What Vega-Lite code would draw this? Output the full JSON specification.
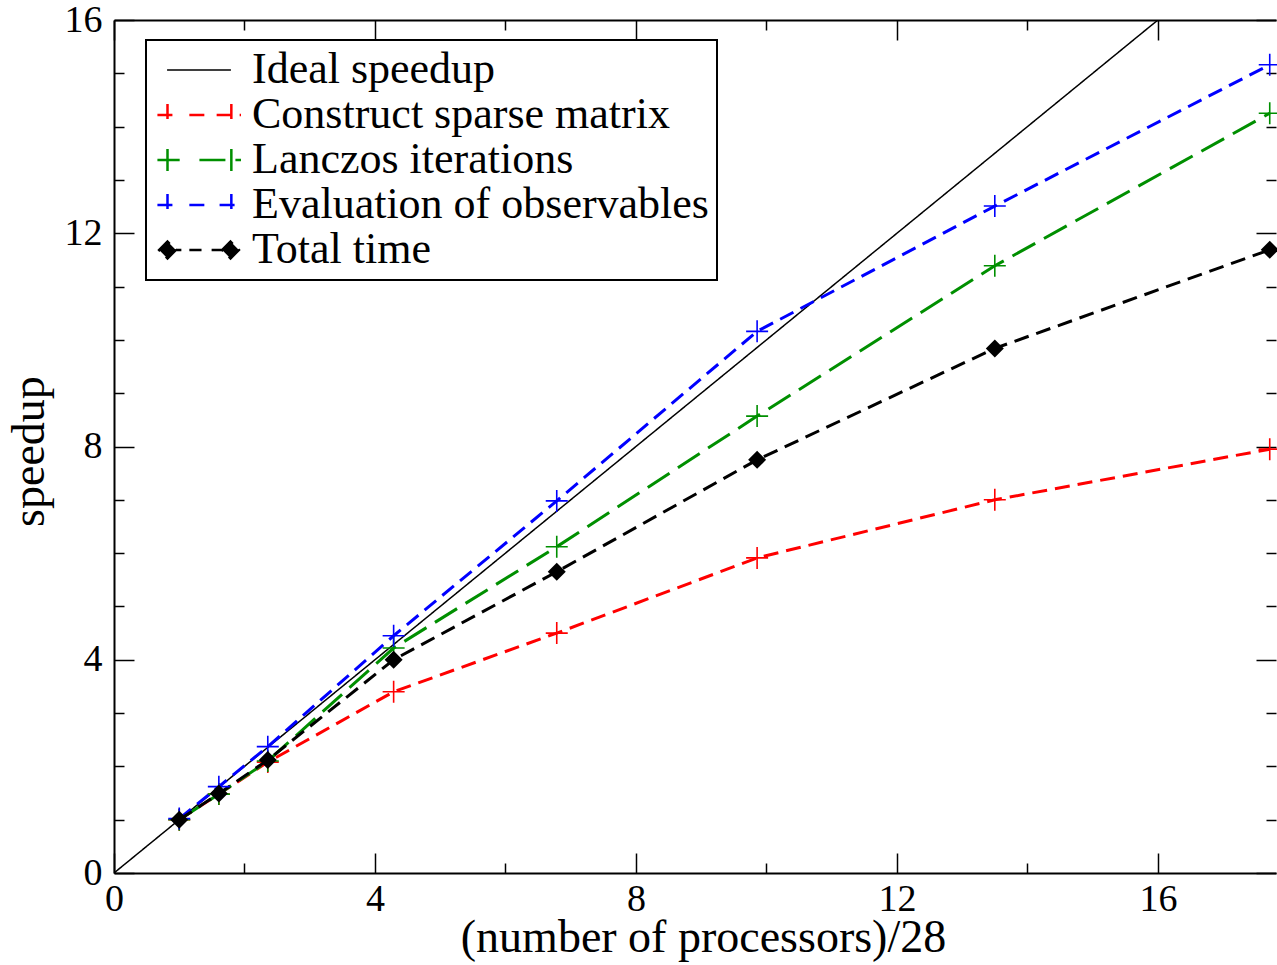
{
  "$schema": "https://vega.github.io/schema/vega-lite/v6.json",
  "width": 1162,
  "height": 853,
  "autosize": "none",
  "padding": {"left": 114, "top": 20, "right": 1, "bottom": 92},
  "background": "white",
  "config": {
    "view": {"stroke": null},
    "axis": {
      "grid": false,
      "domainColor": "black",
      "domainWidth": 2,
      "tickColor": "black",
      "tickWidth": 1.5,
      "labelFont": "Liberation Serif",
      "labelFontSize": 38,
      "labelColor": "black",
      "labelFlush": false,
      "labelOverlap": false,
      "labelBound": false,
      "titleFont": "Liberation Serif",
      "titleFontSize": 46,
      "titleFontWeight": "normal",
      "titleColor": "black"
    }
  },
  "data": {
    "values": [
      {"series": "Ideal speedup", "x": 0, "y": 0},
      {"series": "Ideal speedup", "x": 16, "y": 16},
      {"series": "Construct sparse matrix", "x": 1.0, "y": 1.0},
      {"series": "Construct sparse matrix", "x": 1.607, "y": 1.48},
      {"series": "Construct sparse matrix", "x": 2.357, "y": 2.08},
      {"series": "Construct sparse matrix", "x": 4.286, "y": 3.4},
      {"series": "Construct sparse matrix", "x": 6.786, "y": 4.5},
      {"series": "Construct sparse matrix", "x": 9.857, "y": 5.91},
      {"series": "Construct sparse matrix", "x": 13.5, "y": 7.0},
      {"series": "Construct sparse matrix", "x": 17.714, "y": 7.95},
      {"series": "Lanczos iterations", "x": 1.0, "y": 1.0},
      {"series": "Lanczos iterations", "x": 1.607, "y": 1.48},
      {"series": "Lanczos iterations", "x": 2.357, "y": 2.1},
      {"series": "Lanczos iterations", "x": 4.286, "y": 4.22},
      {"series": "Lanczos iterations", "x": 6.786, "y": 6.12},
      {"series": "Lanczos iterations", "x": 9.857, "y": 8.57},
      {"series": "Lanczos iterations", "x": 13.5, "y": 11.39},
      {"series": "Lanczos iterations", "x": 17.714, "y": 14.25},
      {"series": "Evaluation of observables", "x": 1.0, "y": 1.02},
      {"series": "Evaluation of observables", "x": 1.607, "y": 1.62},
      {"series": "Evaluation of observables", "x": 2.357, "y": 2.37},
      {"series": "Evaluation of observables", "x": 4.286, "y": 4.45},
      {"series": "Evaluation of observables", "x": 6.786, "y": 6.98},
      {"series": "Evaluation of observables", "x": 9.857, "y": 10.16},
      {"series": "Evaluation of observables", "x": 13.5, "y": 12.51},
      {"series": "Evaluation of observables", "x": 17.714, "y": 15.16},
      {"series": "Total time", "x": 1.0, "y": 1.0},
      {"series": "Total time", "x": 1.607, "y": 1.49},
      {"series": "Total time", "x": 2.357, "y": 2.12},
      {"series": "Total time", "x": 4.286, "y": 4.0},
      {"series": "Total time", "x": 6.786, "y": 5.65},
      {"series": "Total time", "x": 9.857, "y": 7.75},
      {"series": "Total time", "x": 13.5, "y": 9.84},
      {"series": "Total time", "x": 17.714, "y": 11.69}
    ]
  },
  "layer": [
    {
      "mark": {"type": "line", "clip": true},
      "encoding": {
        "x": {
          "field": "x", "type": "quantitative",
          "scale": {"domain": [0, 17.81], "nice": false, "zero": false},
          "axis": {
            "orient": "bottom",
            "title": "(number of processors)/28",
            "values": [0, 2, 4, 6, 8, 10, 12, 14, 16],
            "labelExpr": "datum.value % 4 === 0 ? datum.label : ''",
            "tickSize": {"condition": {"test": "datum.value % 4 === 0", "value": -20}, "value": -10},
            "labelPadding": 27,
            "titleBaseline": "alphabetic",
            "titleX": 589,
            "titleY": 78
          }
        },
        "y": {
          "field": "y", "type": "quantitative",
          "scale": {"domain": [0, 16], "nice": false},
          "axis": {
            "orient": "left",
            "title": "speedup",
            "values": [0, 1, 2, 3, 4, 5, 6, 7, 8, 9, 10, 11, 12, 13, 14, 15, 16],
            "labelExpr": "datum.value % 4 === 0 ? datum.label : ''",
            "tickSize": {"condition": {"test": "datum.value % 4 === 0", "value": -20}, "value": -10},
            "labelPadding": 32,
            "titleAngle": 270,
            "titleBaseline": "alphabetic",
            "titleAlign": "center",
            "titleX": -71,
            "titleY": 431
          }
        },
        "color": {
          "field": "series", "type": "nominal",
          "scale": {
            "domain": ["Ideal speedup", "Construct sparse matrix", "Lanczos iterations", "Evaluation of observables", "Total time"],
            "range": ["#000000", "#ff0000", "#008f00", "#0000ff", "#000000"]
          },
          "legend": {
            "orient": "none",
            "legendX": 32,
            "legendY": 20,
            "title": null,
            "padding": 8,
            "strokeColor": "black",
            "fillColor": "white",
            "labelFont": "Liberation Serif",
            "labelFontSize": 44,
            "labelColor": "black",
            "labelLimit": 0,
            "labelOffset": 31,
            "symbolOffset": 23,
            "rowPadding": 1,
            "symbolSize": 1764,
            "symbolStrokeWidth": 2.5,
            "encode": {
              "legend": {"update": {"strokeWidth": {"value": 2}}},
              "symbols": {
                "update": {
                  "shape": {"signal": "datum.value === 'Ideal speedup' ? 'M-1.52,0H1.52' : datum.value === 'Construct sparse matrix' ? 'M-1.98,0H-0.92M-0.46,0H0.26M0.84,0H2M-1.5,-0.52V0.52M1.54,-0.52V0.52' : datum.value === 'Lanczos iterations' ? 'M-1.98,0H-0.92M0.02,0H2M-1.5,-0.52V0.52M1.54,-0.52V0.52' : datum.value === 'Evaluation of observables' ? 'M-1.98,0H-0.92M-0.46,0H0.5M0.98,0H2M-1.5,-0.52V0.52M1.54,-0.52V0.52' : 'M-1.9,0L-1.5,-0.4L-1.1,0L-1.5,0.4ZM-1.1,0H-0.84M-0.46,0H0.12M0.6,0H1.1M1.1,0L1.5,-0.4L1.9,0L1.5,0.4Z'"},
                  "fill": {"signal": "datum.value === 'Total time' ? 'black' : 'transparent'"},
                  "strokeWidth": {"signal": "datum.value === 'Ideal speedup' ? 1.5 : 2.5"}
                }
              }
            }
          }
        },
        "strokeDash": {
          "field": "series", "type": "nominal",
          "scale": {
            "domain": ["Ideal speedup", "Construct sparse matrix", "Lanczos iterations", "Evaluation of observables", "Total time"],
            "range": [[1, 0], [15, 8], [26, 10], [15, 8], [15, 8]]
          },
          "legend": null
        },
        "strokeWidth": {
          "condition": {"test": "datum.series === 'Ideal speedup'", "value": 1.5},
          "value": 3
        }
      }
    },
    {
      "transform": [{"filter": "datum.series !== 'Ideal speedup' && datum.series !== 'Total time'"}],
      "mark": {"type": "point", "shape": "M-1,0H1M0,-1V1", "size": 484, "strokeWidth": 1.6, "filled": false, "opacity": 1},
      "encoding": {
        "x": {"field": "x", "type": "quantitative", "axis": null},
        "y": {"field": "y", "type": "quantitative", "axis": null},
        "stroke": {
          "field": "series", "type": "nominal",
          "scale": {
            "domain": ["Construct sparse matrix", "Lanczos iterations", "Evaluation of observables"],
            "range": ["#ff0000", "#008f00", "#0000ff"]
          },
          "legend": null
        }
      }
    },
    {
      "transform": [{"filter": "datum.series === 'Total time'"}],
      "mark": {"type": "point", "shape": "M-1,0L0,-1L1,0L0,1Z", "size": 324, "filled": true, "color": "black", "opacity": 1},
      "encoding": {
        "x": {"field": "x", "type": "quantitative", "axis": null},
        "y": {"field": "y", "type": "quantitative", "axis": null}
      }
    },
    {
      "transform": [{"filter": "datum.series === 'Ideal speedup'"}],
      "mark": {"type": "point", "opacity": 0},
      "encoding": {
        "x": {
          "field": "x", "type": "quantitative",
          "axis": {
            "orient": "top",
            "title": null,
            "labels": false,
            "values": [0, 2, 4, 6, 8, 10, 12, 14, 16],
            "tickSize": {"condition": {"test": "datum.value % 4 === 0", "value": -20}, "value": -10}
          }
        },
        "y": {
          "field": "y", "type": "quantitative",
          "axis": {
            "orient": "right",
            "title": null,
            "labels": false,
            "domain": false,
            "values": [0, 1, 2, 3, 4, 5, 6, 7, 8, 9, 10, 11, 12, 13, 14, 15, 16],
            "tickSize": {"condition": {"test": "datum.value % 4 === 0", "value": -20}, "value": -10}
          }
        }
      }
    }
  ],
  "resolve": {"axis": {"x": "independent", "y": "independent"}}
}
